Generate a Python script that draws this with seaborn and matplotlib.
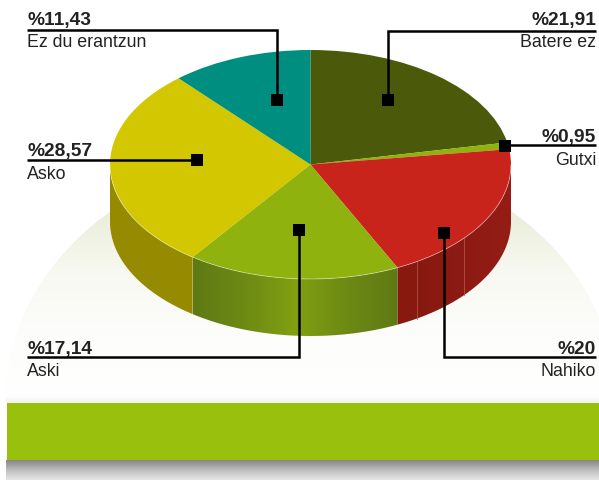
import numpy as np
import matplotlib
matplotlib.use("Agg")
import matplotlib.pyplot as plt
from matplotlib.colors import LinearSegmentedColormap
from matplotlib.patches import Ellipse, Polygon
import seaborn as sns

names = ["Batere ez", "Gutxi", "Nahiko", "Aski", "Asko", "Ez du erantzun"]
values = [21.91, 0.95, 20, 17.14, 28.57, 11.43]
value_labels = ["%21,91", "%0,95", "%20", "%17,14", "%28,57", "%11,43"]
top_colors = ["#4b5a0a", "#8fb20f", "#c9241b", "#8fb20f", "#d2c700", "#008e80"]
wall_colors = [
    ["#4b5a0a", "#4b5a0a"],
    ["#6f8a10", "#6f8a10"],
    ["#88190f", "#8a1a13", "#951d16"],
    ["#5f7a15", "#6d8a14", "#82a011", "#6d8a14", "#5f7a15"],
    ["#968a00", "#968a00"],
    ["#006e64", "#006e64"],
]

W, H = 599, 481
CX, CY, RX, RY, DEPTH = 310.5, 165.5, 200.5, 114.5, 57

sns.set_theme(style="white")
plt.rcParams["font.family"] = ["Liberation Sans", "DejaVu Sans"]

fig = plt.figure(figsize=(W / 100, H / 100), dpi=100)
fig.patch.set_facecolor("white")


def full_axes(z):
    ax = fig.add_axes([0, 0, 1, 1], zorder=z)
    ax.patch.set_alpha(0)
    ax.axis("off")
    return ax


# background dome and the green bar
bg = full_axes(0)
bg.set_xlim(0, W)
bg.set_ylim(H, 0)

dome_cmap = LinearSegmentedColormap.from_list(
    "dome", ["#e6ebd3", "#eaeeda", "#f8f9f2", "#fdfdfb", "#ffffff"])
dome = bg.imshow(np.linspace(0, 1, 256).reshape(-1, 1), cmap=dome_cmap, aspect="auto",
                 extent=[0, W, 400, 151], zorder=1)
clip = Ellipse((311, 400), 610, 498, transform=bg.transData, fc="none", ec="none")
bg.add_patch(clip)
dome.set_clip_path(clip)

shadow_cmap = LinearSegmentedColormap.from_list("shadow", ["#858585", "#bdbdbd", "#e6e6e6"])
bg.imshow(np.linspace(0, 1, 64).reshape(-1, 1), cmap=shadow_cmap, aspect="auto",
          extent=[6, W, 481, 461], zorder=1)
fade_cmap = LinearSegmentedColormap.from_list("fade", ["#ffffff", "#f0f0f0"])
bg.imshow(np.linspace(0, 1, 32).reshape(-1, 1), cmap=fade_cmap, aspect="auto",
          extent=[6, W, 404, 397], zorder=1)
bg.fill_between([7, W], 404, 461, color="#99c00d", lw=0, zorder=2)
bg.set_xlim(0, W)
bg.set_ylim(H, 0)

# pie, drawn on unit circle coordinates squashed into an ellipse
ax = full_axes(1)
wedges, _ = ax.pie(values, colors=sns.color_palette(top_colors), startangle=90, counterclock=False,
                   wedgeprops=dict(linewidth=0, zorder=3))

edges = np.concatenate([[0], np.cumsum(values)]) / sum(values) * 2 * np.pi
depth = DEPTH / RY
for i in range(len(values)):
    start = max(edges[i], np.pi / 2)
    end = min(edges[i + 1], 3 * np.pi / 2)
    if end <= start:
        continue
    t = np.linspace(start, end, 120)
    x, y = np.sin(t), np.cos(t)
    outline = np.column_stack([np.r_[x, x[::-1]], np.r_[y, y[::-1] - depth]])
    shape = Polygon(outline, transform=ax.transData, fc="none", ec="none")
    ax.add_patch(shape)
    shades = np.array(sns.blend_palette(wall_colors[i], 128))[None, :, :]
    im = ax.imshow(shades, aspect="auto", zorder=1,
                   extent=[x.min(), x.max(), (y - depth).min(), y.max()])
    im.set_clip_path(shape)

# faint seams on the red wall
for px in [417, 464]:
    ux = (px - CX) / RX
    uy = -np.sqrt(1 - ux ** 2)
    ax.plot([ux, ux], [uy, uy - depth], color="#b0524a", lw=0.6, zorder=2)

# light rim on the front edge
rim = np.linspace(np.pi / 2, 3 * np.pi / 2, 200)
ax.plot(np.sin(rim), np.cos(rim), color="#ffffff", lw=0.6, alpha=0.45, zorder=4)

ax.set_aspect("auto")
ax.set_xlim((0 - CX) / RX, (W - CX) / RX)
ax.set_ylim((CY - H) / RY, CY / RY)

# leader lines and labels
top = full_axes(2)
top.set_xlim(0, W)
top.set_ylim(H, 0)

leaders = {
    "Ez du erantzun": ([27, 277, 277], [30.5, 30.5, 100]),
    "Batere ez": ([596, 388, 388], [31.5, 31.5, 100]),
    "Gutxi": ([596, 505], [146, 146]),
    "Asko": ([27, 197], [160.5, 160.5]),
    "Aski": ([27, 299, 299], [357.5, 357.5, 230]),
    "Nahiko": ([596, 444, 444], [358, 358, 233]),
}
text_spots = {
    "Ez du erantzun": (27, 25, 47, "left"),
    "Batere ez": (596, 25, 47, "right"),
    "Gutxi": (596, 142, 165, "right"),
    "Asko": (27, 156.5, 179, "left"),
    "Aski": (27, 354, 376, "left"),
    "Nahiko": (596, 354, 376, "right"),
}
for name, val in zip(names, value_labels):
    xs, ys = leaders[name]
    top.plot(xs, ys, color="black", lw=1.8, solid_joinstyle="miter", solid_capstyle="butt", zorder=5)
    top.plot(xs[-1], ys[-1] + 0.5, marker="s", ms=8.6, mew=0, color="black", zorder=6)
    x, y_val, y_name, ha = text_spots[name]
    top.text(x, y_val, val, ha=ha, va="baseline", fontsize=13.8, fontweight="bold", color="#222222")
    top.text(x, y_name, name, ha=ha, va="baseline", fontsize=12.8, color="#222222")

fig.savefig("out.png", dpi=100)
